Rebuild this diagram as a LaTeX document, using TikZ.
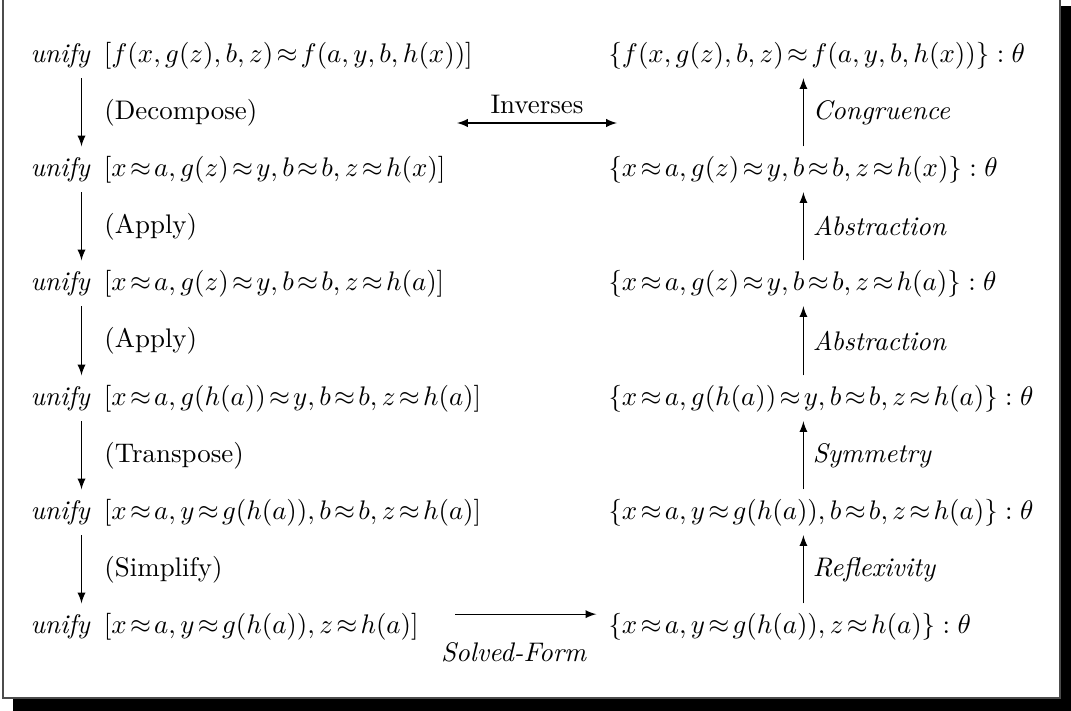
\documentclass[tikz,border=0pt]{standalone}
\usepackage{amsmath, amssymb}
\usepackage{tikz}
\usetikzlibrary{arrows.meta, positioning}

\newcommand{\aeq}{\mskip2.2mu\mathord{\approx}\mskip2.2mu}

\begin{document}
\begin{tikzpicture}[
    x=0.3718pt, y=-0.3718pt,
    term/.style={anchor=base west},
    arrow/.style={->, >=latex},
    rule/.style={font=\itshape}
]
    \useasboundingbox (0,0) rectangle (1071,711);
    % frame with shadow
    \fill[black] (13,6) rectangle (1071,711);
    \draw[fill=white, draw=black!70, line width=0.6pt] (3,-3) rectangle (1060,698);

    % left column: unification steps
    \node[term] (l1) at (21,62) {\textit{unify}\enspace$[f(x,g(z),b,z) \aeq f(a,y,b,h(x))]$};
    \node[term] (l2) at (21,176) {\textit{unify}\enspace$[x \aeq a, g(z) \aeq y, b \aeq b, z \aeq h(x)]$};
    \node[term] (l3) at (21,290) {\textit{unify}\enspace$[x \aeq a, g(z) \aeq y, b \aeq b, z \aeq h(a)]$};
    \node[term] (l4) at (21,405) {\textit{unify}\enspace$[x \aeq a, g(h(a)) \aeq y, b \aeq b, z \aeq h(a)]$};
    \node[term] (l5) at (21,519) {\textit{unify}\enspace$[x \aeq a, y \aeq g(h(a)), b \aeq b, z \aeq h(a)]$};
    \node[term] (l6) at (21,633) {\textit{unify}\enspace$[x \aeq a, y \aeq g(h(a)), z \aeq h(a)]$};

    % right column: solved sets
    \node[term] (r1) at (599,62) {$\{f(x,g(z),b,z) \aeq f(a,y,b,h(x))\} : \theta$};
    \node[term] (r2) at (599,176) {$\{x \aeq a, g(z) \aeq y, b \aeq b, z \aeq h(x)\} : \theta$};
    \node[term] (r3) at (599,290) {$\{x \aeq a, g(z) \aeq y, b \aeq b, z \aeq h(a)\} : \theta$};
    \node[term] (r4) at (599,405) {$\{x \aeq a, g(h(a)) \aeq y, b \aeq b, z \aeq h(a)\} : \theta$};
    \node[term] (r5) at (599,519) {$\{x \aeq a, y \aeq g(h(a)), b \aeq b, z \aeq h(a)\} : \theta$};
    \node[term] (r6) at (599,633) {$\{x \aeq a, y \aeq g(h(a)), z \aeq h(a)\} : \theta$};

    % downward steps
    \draw[arrow] ([xshift=22.5pt]l1.south west) -- node[right=5pt] {(Decompose)} ([xshift=22.5pt]l2.north west);
    \draw[arrow] ([xshift=22.5pt]l2.south west) -- node[right=5pt] {(Apply)} ([xshift=22.5pt]l3.north west);
    \draw[arrow] ([xshift=22.5pt]l3.south west) -- node[right=5pt] {(Apply)} ([xshift=22.5pt]l4.north west);
    \draw[arrow] ([xshift=22.5pt]l4.south west) -- node[right=5pt] {(Transpose)} ([xshift=22.5pt]l5.north west);
    \draw[arrow] ([xshift=22.5pt]l5.south west) -- node[right=5pt] {(Simplify)} ([xshift=22.5pt]l6.north west);

    % upward steps
    \draw[arrow] ([xshift=76pt]r2.north west) -- node[right, rule] {Congruence} ([xshift=76pt]r1.south west);
    \draw[arrow] ([xshift=76pt]r3.north west) -- node[right, rule] {Abstraction} ([xshift=76pt]r2.south west);
    \draw[arrow] ([xshift=76pt]r4.north west) -- node[right, rule] {Abstraction} ([xshift=76pt]r3.south west);
    \draw[arrow] ([xshift=76pt]r5.north west) -- node[right, rule] {Symmetry} ([xshift=76pt]r4.south west);
    \draw[arrow] ([xshift=76pt]r6.north west) -- node[right, rule] {Reflexivity} ([xshift=76pt]r5.south west);

    % across
    \coordinate (invl) at (457,123);
    \coordinate (invr) at (617,123);
    \draw[<->, >=latex] (invl) -- node[above] {Inverses} (invr);
    \draw[arrow, shorten <=10pt, shorten >=1pt] ([yshift=4.5pt]l6.east) -- node[below=7pt, rule] {Solved-Form} ([yshift=4.5pt]r6.west);
\end{tikzpicture}
\end{document}
